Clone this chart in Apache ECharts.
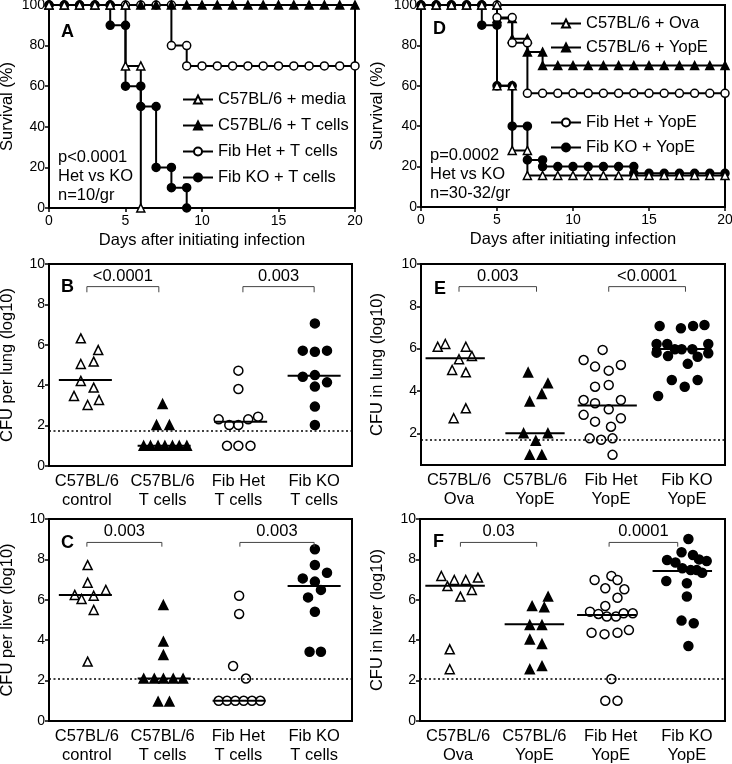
<!DOCTYPE html>
<html>
<head>
<meta charset="utf-8">
<script src="https://cdn.jsdelivr.net/npm/echarts@6/dist/echarts.min.js"></script>
<style>
  html, body { margin: 0; padding: 0; background: #fff; }
  #chart { width: 732px; height: 764px; }
</style>
</head>
<body>
<div id="chart"></div>
<script>
// ---------- survival (A) : [day, % alive] ----------
const survA_media = [[0,100],[1,100],[2,100],[3,100],[4,100],[5,100],[5,70],[6,70],[6,0]];
const survA_tcells = [[0,100],[1,100],[2,100],[3,100],[4,100],[5,100],[6,100],[7,100],[8,100],[9,100],[10,100],
  [11,100],[12,100],[13,100],[14,100],[15,100],[16,100],[17,100],[18,100],[19,100],[20,100]];
const survA_het = [[0,100],[1,100],[2,100],[3,100],[4,100],[5,100],[6,100],[7,100],[8,100],[8,80],[9,80],[9,70],
  [10,70],[11,70],[12,70],[13,70],[14,70],[15,70],[16,70],[17,70],[18,70],[19,70],[20,70]];
const survA_ko = [[0,100],[1,100],[2,100],[3,100],[4,100],[4,90],[5,90],[5,60],[6,60],[6,50],[7,50],[7,20],
  [8,20],[8,10],[9,10],[9,0]];

// ---------- survival (D) ----------
const survD_ova = [[0,100],[1,100],[2,100],[3,100],[4,100],[5,100],[5,60],[6,60],[6,28],[7,28],[7,15.6],
  [8,15.6],[9,15.6],[10,15.6],[11,15.6],[12,15.6],[13,15.6],[14,15.6],[15,15.6],[16,15.6],[17,15.6],[18,15.6],[19,15.6],[20,15.6]];
const survD_yope = [[0,100],[1,100],[2,100],[3,100],[4,100],[5,100],[5,93.3],[6,93.3],[6,83.3],[7,83.3],[7,76.7],
  [8,76.7],[8,70],[9,70],[10,70],[11,70],[12,70],[13,70],[14,70],[15,70],[16,70],[17,70],[18,70],[19,70],[20,70]];
const survD_het = [[0,100],[1,100],[2,100],[3,100],[4,100],[5,100],[5,93.8],[6,93.8],[6,81.3],[7,81.3],[7,56.3],
  [8,56.3],[9,56.3],[10,56.3],[11,56.3],[12,56.3],[13,56.3],[14,56.3],[15,56.3],[16,56.3],[17,56.3],[18,56.3],[19,56.3],[20,56.3]];
const survD_ko = [[0,100],[1,100],[2,100],[3,100],[4,100],[4,90],[5,90],[5,60],[6,60],[6,40],[7,40],[7,23.3],
  [8,23.3],[8,20],[9,20],[10,20],[11,20],[12,20],[13,20],[14,20],[14,16.7],[15,16.7],[16,16.7],[17,16.7],[18,16.7],[19,16.7],[20,16.7]];

// ---------- CFU scatter panels : [group position, log10 CFU] ----------
const groupsT = ['C57BL/6\ncontrol', 'C57BL/6\nT cells', 'Fib Het\nT cells', 'Fib KO\nT cells'];
const groupsY = ['C57BL/6\nOva', 'C57BL/6\nYopE', 'Fib Het\nYopE', 'Fib KO\nYopE'];

// B: lung, T cell transfer
const lungT_ctrl = [[0.92,6.32],[1.15,5.74],[0.92,5.05],[1.09,5.17],[0.92,4.21],[1.09,3.88],[0.83,3.47],[1.01,3.02],[1.16,3.27]];
const lungT_tcell = [[2.0,3.07],[1.92,2.03],[2.09,2.03],[1.75,1.0],[1.84,1.0],[1.94,1.0],[2.03,1.0],[2.13,1.0],[2.22,1.0],[2.32,1.0]];
const lungT_het = [[3.0,4.72],[3.0,3.81],[2.74,2.31],[2.88,2.03],[3.0,2.03],[3.13,2.31],[3.26,2.44],[2.85,1.0],[3.0,1.0],[3.16,1.0]];
const lungT_ko = [[4.01,7.06],[3.85,5.71],[4.01,5.66],[4.17,5.71],[3.85,4.42],[4.01,4.5],[4.17,4.14],[4.01,3.93],[4.01,2.94],[4.01,2.03]];
const medB = [[0.98,4.26],[2.02,1.0],[3.03,2.19],[4.0,4.47]];
const lodB = 1.73;
const brB = [[1.0,1.95],[3.06,4.0]];
const brB_y = [8.6, 8.88, 9.4];
const pB = ['<0.0001', '0.003'];

// E: lung, YopE immunisation
const lungY_ova = [[0.72,6.09],[0.82,6.22],[1.09,6.09],[1.0,5.5],[1.17,5.65],[0.91,4.99],[1.09,4.88],[1.09,3.18],[0.93,2.71]];
const lungY_yope = [[1.91,4.87],[2.17,4.36],[2.09,3.86],[1.93,3.5],[1.85,2.0],[2.17,2.0],[2.01,1.65],[1.93,0.98],[2.09,0.98]];
const lungY_het = [[2.89,5.94],[2.64,5.46],[2.79,5.15],[2.97,4.96],[3.13,5.23],[2.79,4.2],[2.97,4.28],[2.64,3.57],
  [2.79,3.42],[2.97,3.13],[3.13,3.57],[2.64,2.87],[2.79,2.55],[3.0,2.31],[3.13,2.71],[2.72,1.76],[2.87,1.69],[3.02,1.76],[3.02,0.98]];
const lungY_ko = [[3.64,7.07],[3.92,6.96],[4.08,7.07],[4.23,7.12],[3.6,6.22],[3.74,6.22],[3.84,5.97],[3.93,5.97],[4.07,5.97],
  [4.28,6.22],[3.6,5.81],[3.75,5.65],[4.14,5.62],[4.28,5.78],[4.01,5.28],[3.8,4.52],[4.14,4.52],[3.97,4.2],[3.62,3.76]];
const medE = [[0.95,5.54],[2.0,2.0],[2.95,3.31],[3.93,5.98]];
const lodE = 1.69;
const brE = [[1.0,2.02],[2.97,3.98]];
const brE_y = [8.69, 8.93, 9.43];
const pE = ['0.003', '<0.0001'];

// C: liver, T cell transfer
const livT_ctrl = [[1.01,7.72],[1.01,6.85],[0.84,6.24],[0.93,6.04],[1.09,6.2],[1.25,6.49],[1.09,5.5],[1.01,2.94]];
const livT_tcell = [[2.01,5.74],[2.01,3.93],[2.01,3.27],[1.75,2.1],[1.89,2.1],[2.01,2.1],[2.14,2.1],[2.27,2.1],[1.94,0.96],[2.09,0.96]];
const livT_het = [[3.01,6.2],[3.01,5.3],[2.93,2.72],[3.1,2.1],[2.74,1.0],[2.85,1.0],[2.96,1.0],[3.07,1.0],[3.18,1.0],[3.29,1.0]];
const livT_ko = [[4.01,8.5],[4.01,7.72],[3.85,7.06],[4.17,7.34],[4.01,6.9],[3.92,6.12],[4.09,6.49],[4.01,5.41],[3.94,3.43],[4.09,3.43]];
const medC = [[0.98,6.24],[2.02,2.1],[3.01,1.0],[4.0,6.68]];
const lodC = 2.1;
const brC = [[1.0,1.99],[3.02,4.0]];
const brC_y = [8.63, 8.84, 9.37];
const pC = ['0.003', '0.003'];

// F: liver, YopE immunisation
const livY_ova = [[0.78,7.18],[0.86,6.68],[0.95,6.98],[1.1,6.98],[1.26,7.1],[1.18,6.49],[1.03,6.16],[0.89,3.55],[0.89,2.56]];
const livY_yope = [[2.18,6.16],[1.97,5.69],[2.13,5.63],[1.94,4.75],[2.1,4.75],[1.94,4.04],[2.1,3.81],[2.1,2.72],[1.94,2.56]];
const livY_het = [[2.79,6.98],[3.01,7.18],[3.09,6.98],[2.93,6.57],[3.18,6.52],[3.09,6.1],[2.93,5.69],[2.73,5.41],[2.84,5.3],
  [2.95,5.17],[3.07,5.17],[3.17,5.33],[3.29,5.33],[2.75,4.37],[2.92,4.3],[3.09,4.37],[3.24,4.5],[3.01,2.08],[2.93,1.0],[3.09,1.0]];
const livY_ko = [[4.02,9.01],[3.93,8.35],[4.08,8.22],[3.74,7.97],[3.85,7.85],[4.26,7.92],[4.16,8.0],[3.94,7.56],[4.05,7.47],
  [4.13,7.47],[4.2,7.34],[3.73,6.93],[4.0,6.82],[4.0,6.16],[3.93,4.97],[4.09,4.84],[4.02,3.71]];
const medF = [[0.96,6.7],[2.0,4.79],[2.95,5.25],[3.94,7.43]];
const lodF = 2.08;
const brF = [[1.03,2.03],[2.98,3.88]];
const brF_y = [8.63, 8.84, 9.37];
const pF = ['0.03', '0.0001'];

// ---------- helpers ----------
const FONT = '"Liberation Sans", Arial, sans-serif';
const BIG = 16.5; // names, legends, group labels
const txt = (size, extra) => Object.assign({ color: '#000', fontFamily: FONT, fontSize: size }, extra || {});
const axLine = { show: true, lineStyle: { color: '#000', width: 2 } };
const axTick = { show: true, inside: false, length: 4, lineStyle: { color: '#000', width: 1.5 } };

function survLine(name, data, ax, symbol, filled) {
  return {
    name, type: 'line', xAxisIndex: ax, yAxisIndex: ax, data,
    symbol, symbolSize: 8, showAllSymbol: true, z: 3,
    lineStyle: { color: '#000', width: 2 },
    itemStyle: { color: filled ? '#000' : '#fff', borderColor: '#000', borderWidth: 1.5, opacity: 1 },
    emphasis: { disabled: true }
  };
}

function dots(data, ax, symbol, filled) {
  return {
    type: 'scatter', xAxisIndex: ax, yAxisIndex: ax, data, symbol, symbolSize: 9, z: 2,
    itemStyle: { color: filled ? '#000' : '#fff', borderColor: '#000', borderWidth: 1.5, opacity: 1 },
    emphasis: { disabled: true }
  };
}

function medians(meds, halfW, lod, ax) {
  const out = meds.map((m) => ({
    type: 'line', xAxisIndex: ax, yAxisIndex: ax, symbol: 'none', z: 5,
    data: [[m[0] - halfW, m[1]], [m[0] + halfW, m[1]]],
    lineStyle: { color: '#000', width: 2 }, emphasis: { disabled: true }
  }));
  out[0].markLine = {
    silent: true, symbol: ['none', 'none'], label: { show: false },
    lineStyle: { color: '#000', width: 1.5, type: [2, 2.5] },
    data: [{ yAxis: lod }]
  };
  return out;
}

function brackets(br, ys, labels, ax) {
  const out = [];
  br.forEach((b, i) => {
    out.push({
      type: 'line', xAxisIndex: ax, yAxisIndex: ax, symbol: 'none', z: 5,
      data: [[b[0], ys[0]], [b[0], ys[1]], [b[1], ys[1]], [b[1], ys[0]]],
      lineStyle: { color: '#444', width: 1 }, emphasis: { disabled: true }
    });
    out.push({
      type: 'scatter', xAxisIndex: ax, yAxisIndex: ax, symbolSize: 0, z: 5,
      itemStyle: { opacity: 1 },
      data: [[(b[0] + b[1]) / 2, ys[2]]],
      label: { show: true, position: 'inside', formatter: labels[i], ...txt(BIG) }
    });
  });
  return out;
}

function survXAxis(g) {
  return {
    type: 'value', gridIndex: g, position: 'bottom', min: 0, max: 20, interval: 5,
    axisLine: axLine, axisTick: axTick, splitLine: { show: false },
    axisLabel: txt(14, { margin: 6 }),
    name: 'Days after initiating infection', nameLocation: 'middle', nameGap: 24,
    nameTextStyle: txt(BIG)
  };
}
function survYAxis(g, gap) {
  return {
    type: 'value', gridIndex: g, position: 'left', min: 0, max: 100, interval: 20,
    axisLine: axLine, axisTick: axTick, splitLine: { show: false },
    axisLabel: txt(14, { margin: 4 }),
    name: 'Survival (%)', nameLocation: 'middle', nameGap: gap, nameTextStyle: txt(BIG)
  };
}
function posXAxis(g) {
  return {
    type: 'value', gridIndex: g, position: 'bottom', min: 0.5, max: 4.5,
    axisLine: axLine, axisTick: { show: false }, axisLabel: { show: false }, splitLine: { show: false }
  };
}
function groupXAxis(g, cats) {
  return {
    type: 'category', gridIndex: g, position: 'bottom', offset: 0, data: cats, boundaryGap: true,
    axisLine: { show: false }, axisTick: { show: false }, splitLine: { show: false },
    axisLabel: txt(BIG, { margin: 6, lineHeight: 19, interval: 0 })
  };
}
function cfuYAxis(g, name, gap, min) {
  const ax = {
    type: 'value', gridIndex: g, position: 'left', min: min, max: 10,
    axisLine: axLine, axisTick: Object.assign({}, axTick), splitLine: { show: false },
    axisLabel: txt(14, { margin: 4 }),
    name, nameLocation: 'middle', nameGap: gap, nameTextStyle: txt(BIG)
  };
  if (min === 0) {
    ax.interval = 2;
  } else {
    ax.axisLabel.customValues = [2, 4, 6, 8, 10];
    ax.axisTick.customValues = [2, 4, 6, 8, 10];
  }
  return ax;
}

const gridBase = { show: true, borderColor: '#000', borderWidth: 2, backgroundColor: 'transparent', containLabel: false, outerBoundsMode: 'none' };

const legendBase = {
  orient: 'vertical', itemWidth: 30, itemHeight: 10, selectedMode: false, padding: 0,
  textStyle: txt(BIG), inactiveColor: '#000'
};

const option = {
  animation: false,
  backgroundColor: '#fff',
  textStyle: { fontFamily: FONT },
  title: [
    { text: 'A', left: 61, top: 23 },
    { text: 'D', left: 433, top: 20 },
    { text: 'B', left: 61, top: 278 },
    { text: 'E', left: 434, top: 280 },
    { text: 'C', left: 61, top: 534 },
    { text: 'F', left: 433, top: 533 }
  ].map((t) => Object.assign({ padding: 0, textStyle: txt(18, { fontWeight: 'bold' }) }, t)),
  graphic: [
    { type: 'text', left: 58, top: 148, style: { text: 'p<0.0001\nHet vs KO\nn=10/gr', fill: '#000', font: BIG + 'px ' + FONT, lineHeight: 19 } },
    { type: 'text', left: 430, top: 146, style: { text: 'p=0.0002\nHet vs KO\nn=30-32/gr', fill: '#000', font: BIG + 'px ' + FONT, lineHeight: 19 } }
  ],
  legend: [
    Object.assign({}, legendBase, { left: 182, top: 91, itemGap: 9,
      data: ['C57BL/6 + media', 'C57BL/6 + T cells', 'Fib Het + T cells', 'Fib KO + T cells'] }),
    Object.assign({}, legendBase, { left: 550, top: 15, itemGap: 7,
      data: ['C57BL/6 + Ova', 'C57BL/6 + YopE'] }),
    Object.assign({}, legendBase, { left: 550, top: 114, itemGap: 8,
      data: ['Fib Het + YopE', 'Fib KO + YopE'] })
  ],
  grid: [
    { left: 49, top: 5, width: 306, height: 203 },
    { left: 421, top: 5, width: 304, height: 202 },
    { left: 49, top: 264, width: 303, height: 202 },
    { left: 421, top: 264, width: 304, height: 201 },
    { left: 49, top: 519, width: 303, height: 202 },
    { left: 420, top: 519, width: 305, height: 202 }
  ].map((g) => Object.assign({}, gridBase, g)),
  xAxis: [
    survXAxis(0), survXAxis(1),
    posXAxis(2), posXAxis(3), posXAxis(4), posXAxis(5),
    groupXAxis(2, groupsT), groupXAxis(3, groupsY), groupXAxis(4, groupsT), groupXAxis(5, groupsY)
  ],
  yAxis: [
    survYAxis(0, 33), survYAxis(1, 35),
    cfuYAxis(2, 'CFU per lung (log10)', 33, 0),
    cfuYAxis(3, 'CFU in lung (log10)', 35, 0.5),
    cfuYAxis(4, 'CFU per liver (log10)', 33, 0),
    cfuYAxis(5, 'CFU in liver (log10)', 34, 0)
  ],
  series: [
    // A
    survLine('Fib Het + T cells', survA_het, 0, 'circle', false),
    survLine('Fib KO + T cells', survA_ko, 0, 'circle', true),
    survLine('C57BL/6 + T cells', survA_tcells, 0, 'triangle', true),
    survLine('C57BL/6 + media', survA_media, 0, 'triangle', false),
    // D
    survLine('C57BL/6 + YopE', survD_yope, 1, 'triangle', true),
    survLine('Fib Het + YopE', survD_het, 1, 'circle', false),
    survLine('Fib KO + YopE', survD_ko, 1, 'circle', true),
    survLine('C57BL/6 + Ova', survD_ova, 1, 'triangle', false),
    // B
    dots(lungT_ctrl, 2, 'triangle', false), dots(lungT_tcell, 2, 'triangle', true),
    dots(lungT_het, 2, 'circle', false), dots(lungT_ko, 2, 'circle', true),
    ...medians(medB, 0.35, lodB, 2), ...brackets(brB, brB_y, pB, 2),
    // E
    dots(lungY_ova, 3, 'triangle', false), dots(lungY_yope, 3, 'triangle', true),
    dots(lungY_het, 3, 'circle', false), dots(lungY_ko, 3, 'circle', true),
    ...medians(medE, 0.39, lodE, 3), ...brackets(brE, brE_y, pE, 3),
    // C
    dots(livT_ctrl, 4, 'triangle', false), dots(livT_tcell, 4, 'triangle', true),
    dots(livT_het, 4, 'circle', false), dots(livT_ko, 4, 'circle', true),
    ...medians(medC, 0.35, lodC, 4), ...brackets(brC, brC_y, pC, 4),
    // F
    dots(livY_ova, 5, 'triangle', false), dots(livY_yope, 5, 'triangle', true),
    dots(livY_het, 5, 'circle', false), dots(livY_ko, 5, 'circle', true),
    ...medians(medF, 0.39, lodF, 5), ...brackets(brF, brF_y, pF, 5)
  ]
};

const myChart = echarts.init(document.getElementById('chart'), null, { renderer: 'canvas' });
myChart.setOption(option);
</script>
</body>
</html>
